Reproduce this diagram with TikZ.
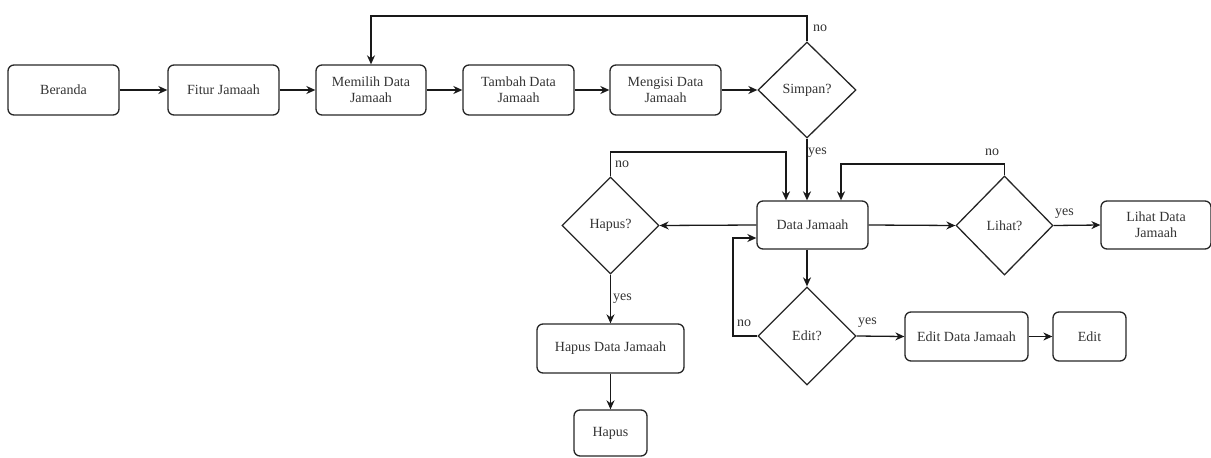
\documentclass[tikz,border=0pt]{standalone}
\usepackage{fontspec}
\setmainfont{Liberation Serif}
\usetikzlibrary{shapes.geometric,arrows.meta}
\begin{document}
\begin{tikzpicture}[x=1pt,y=-1pt,
  every node/.style={font=\fontsize{14}{16}\selectfont, text=black!80},
  box/.style={draw=black!85, rounded corners=6pt, line width=1.3pt, align=center, inner sep=0pt},
  decision/.style={draw=black!85, diamond, line width=1.3pt, inner sep=0pt, align=center},
  arr/.style={-{Stealth[length=9pt,width=8pt]}, line width=1.3pt, draw=black!90},
  lbl/.style={font=\fontsize{14}{16}\selectfont, inner sep=0pt}]
\useasboundingbox (0,0) rectangle (1211,458);

% top row
\node[box, minimum width=111pt, minimum height=50pt] (beranda) at (63.5,90) {Beranda};
\node[box, minimum width=111pt, minimum height=50pt] (fitur) at (223.5,90) {Fitur Jamaah};
\node[box, minimum width=110pt, minimum height=50pt] (memilih) at (371,90) {Memilih Data\\Jamaah};
\node[box, minimum width=111pt, minimum height=50pt] (tambah) at (518.5,90) {Tambah Data\\Jamaah};
\node[box, minimum width=111pt, minimum height=50pt] (mengisi) at (665.5,90) {Mengisi Data\\Jamaah};
\node[decision, minimum width=98pt, minimum height=96pt] (simpan) at (807,90) {Simpan?};

% middle row
\node[box, minimum width=111pt, minimum height=48pt] (data) at (812.5,225) {Data Jamaah};
\node[decision, minimum width=97pt, minimum height=97pt] (hapusq) at (610.5,225.5) {Hapus?};
\node[decision, minimum width=97pt, minimum height=99pt] (lihat) at (1004.5,225.5) {Lihat?};
\node[box, minimum width=110pt, minimum height=48pt] (lihatdata) at (1156,225) {Lihat Data\\Jamaah};

% edit branch
\node[decision, minimum width=98pt, minimum height=98pt] (edit) at (807,336) {Edit?};
\node[box, minimum width=123pt, minimum height=49pt] (editdata) at (966.5,336.5) {Edit Data Jamaah};
\node[box, minimum width=73pt, minimum height=49pt] (editbox) at (1089.5,336.5) {Edit};

% delete branch
\node[box, minimum width=147pt, minimum height=49pt] (hapusdata) at (610.5,348.5) {Hapus Data Jamaah};
\node[box, minimum width=73pt, minimum height=46pt] (hapus) at (610.5,433) {Hapus};

% helper points for routed connectors
\coordinate (sn) at (371,16);
\coordinate (hn) at (786,152);
\coordinate (ln) at (841,164);
\coordinate (en) at (733,238);

% top row flow
\draw[arr] (beranda) -- (fitur);
\draw[arr] (fitur) -- (memilih);
\draw[arr] (memilih) -- (tambah);
\draw[arr] (tambah) -- (mengisi);
\draw[arr] (mengisi) -- (simpan);
\draw[arr] (simpan.north) |- (sn) -- (memilih.north);
\node[lbl, anchor=west] at (813,28) {no};
\draw[arr] (simpan.south) -- (simpan.south |- data.north);
\node[lbl, anchor=west] at (808,153) {yes};

% Data Jamaah branches
\draw[arr] (data.west) -- (hapusq.east);
\draw[arr] (hapusq.north) |- (hn) -- (hn |- data.north);
\node[lbl, anchor=west] at (615,164) {no};
\draw[arr] (hapusq.south) -- (hapusdata.north);
\node[lbl, anchor=west] at (613,299) {yes};
\draw[arr] (hapusdata.south) -- (hapus.north);

\draw[arr] (data.east) -- (lihat.west);
\draw[arr] (lihat.east) -- (lihatdata.west);
\node[lbl, anchor=west] at (1055,214) {yes};
\draw[arr] (lihat.north) |- (ln) -- (ln |- data.north);
\node[lbl] at (992,152) {no};

\draw[arr] (simpan.south |- data.south) -- (edit.north);
\draw[arr] (edit.east) -- (editdata.west);
\node[lbl, anchor=west] at (858,323) {yes};
\draw[arr] (editdata.east) -- (editbox.west);
\draw[arr] (edit.west) -| (en) -- (en -| data.west);
\node[lbl, anchor=west] at (737,323) {no};
\end{tikzpicture}
\end{document}
